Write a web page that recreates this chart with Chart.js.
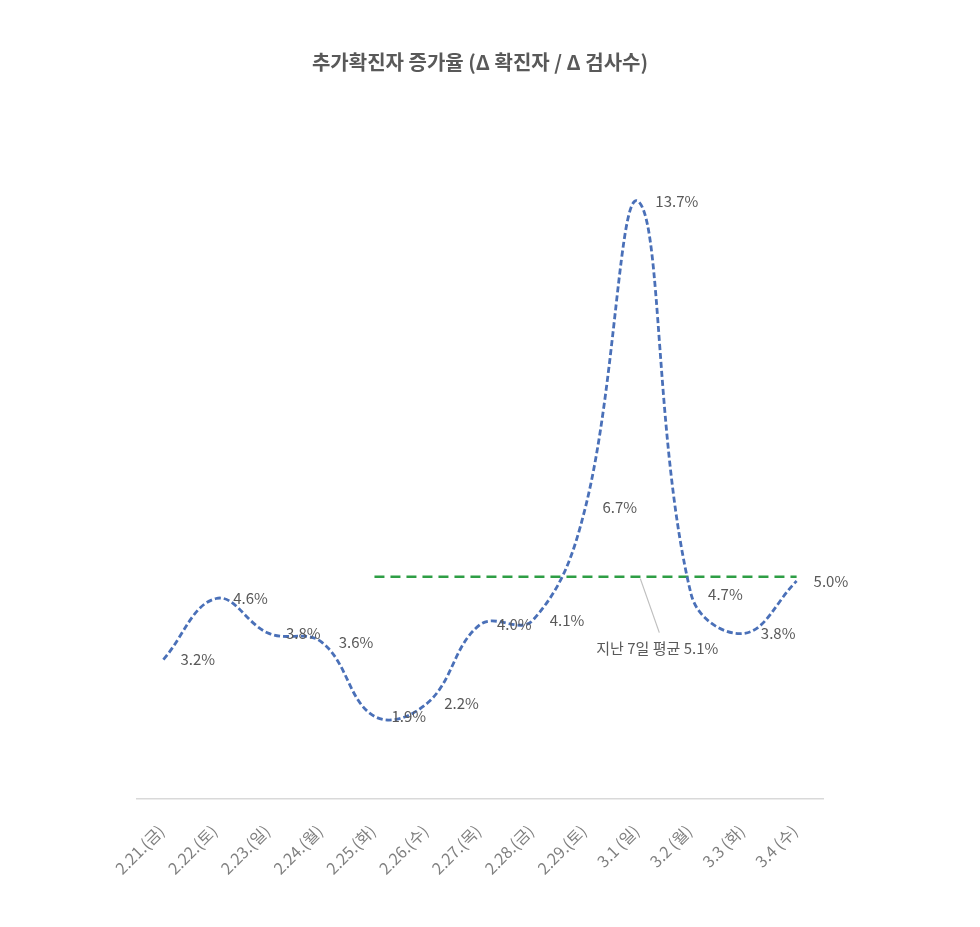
<!DOCTYPE html>
<html>
<head>
<meta charset="utf-8">
<script src="https://cdn.jsdelivr.net/npm/chart.js@4"></script>
<style>
  html, body { margin: 0; padding: 0; background: #fff; }
  #wrap { width: 980px; height: 927px; }
</style>
</head>
<body>
<div id="wrap"><canvas id="rateChart" width="980" height="927"></canvas></div>
<script>
// Data
const dates = ['2.21.(금)', '2.22.(토)', '2.23.(일)', '2.24.(월)', '2.25.(화)', '2.26.(수)', '2.27.(목)',
               '2.28.(금)', '2.29.(토)', '3.1 (일)', '3.2 (월)', '3.3 (화)', '3.4 (수)'];
const rates = [3.2, 4.6, 3.8, 3.6, 1.9, 2.2, 4.0, 4.1, 6.7, 13.7, 4.7, 3.8, 5.0];
const avgRates = [null, null, null, null, 5.1, 5.1, 5.1, 5.1, 5.1, 5.1, 5.1, 5.1, 5.1];
const avgLabel = '지난 7일 평균 5.1%';
const avgLabelIndex = 9;

const FONT = "'Noto Sans CJK KR', 'Noto Sans', sans-serif";

// value labels to the right of each point, plus the average callout
const labelPlugin = {
    id: 'labels',
    afterDatasetsDraw(chart) {
        const ctx = chart.ctx;
        const meta = chart.getDatasetMeta(0);
        ctx.save();
        ctx.font = '15px ' + FONT;
        ctx.fillStyle = '#595959';
        ctx.textAlign = 'left';
        ctx.textBaseline = 'middle';
        meta.data.forEach(function(pt, i) {
            ctx.fillText(rates[i].toFixed(1) + '%', pt.x + 17, pt.y);
        });

        // leader line + text for the average
        const x = chart.scales.x.getPixelForValue(avgLabelIndex);
        const y = chart.scales.y.getPixelForValue(avgRates[avgLabelIndex]);
        ctx.strokeStyle = '#bfbfbf';
        ctx.lineWidth = 1.2;
        ctx.beginPath();
        ctx.moveTo(x + 2, y + 2);
        ctx.lineTo(x + 21, y + 56);
        ctx.stroke();
        ctx.textAlign = 'center';
        ctx.fillText(avgLabel, x + 19, y + 72);
        ctx.restore();
    }
};

const ctx = document.getElementById('rateChart').getContext('2d');
new Chart(ctx, {
    type: 'line',
    data: {
        labels: dates,
        datasets: [{
            label: '증가율',
            data: rates,
            borderColor: '#4a70b8',
            borderWidth: 2.8,
            borderDash: [6, 3],
            tension: 0.4,
            pointRadius: 0,
            fill: false
        }, {
            label: '지난 7일 평균',
            data: avgRates,
            borderColor: '#2e9e45',
            borderWidth: 2.5,
            borderDash: [10, 6],
            tension: 0,
            pointRadius: 0,
            fill: false
        }]
    },
    options: {
        responsive: false,
        animation: false,
        layout: {
            padding: { left: 137, right: 157, top: 50, bottom: 27 }
        },
        plugins: {
            legend: { display: false },
            tooltip: { enabled: false },
            title: {
                display: true,
                text: '추가확진자 증가율 (Δ 확진자 / Δ 검사수)',
                color: '#595959',
                font: { family: FONT, size: 20, weight: 'bold' },
                padding: { top: 0, bottom: 27 }
            }
        },
        scales: {
            x: {
                offset: true,
                grid: { display: false, drawTicks: false },
                border: { display: true, color: '#d9d9d9', width: 1.5 },
                ticks: {
                    color: '#7f7f7f',
                    font: { family: FONT, size: 16 },
                    minRotation: 45,
                    maxRotation: 45,
                    labelOffset: -2,
                    padding: 22
                }
            },
            y: {
                display: false,
                min: 0,
                max: 16
            }
        }
    },
    plugins: [labelPlugin]
});
</script>
</body>
</html>
